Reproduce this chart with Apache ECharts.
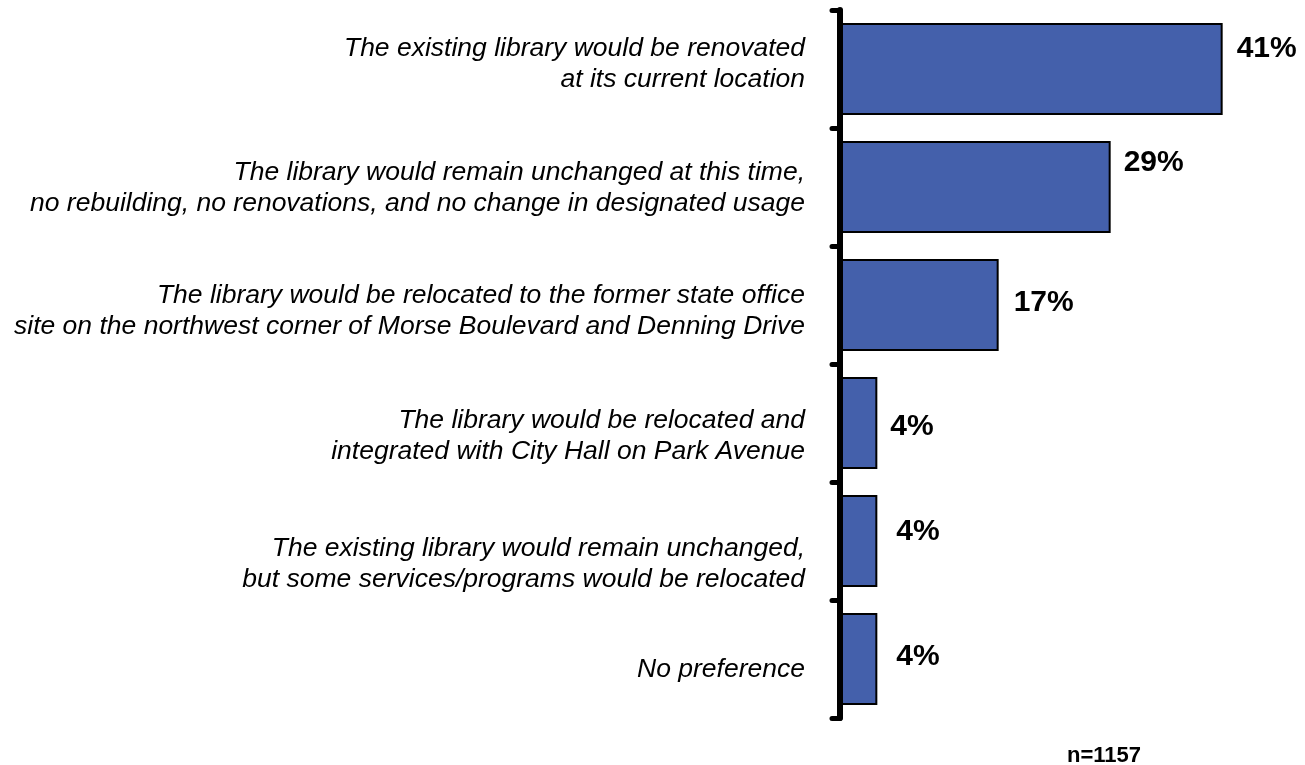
<!DOCTYPE html>
<html>
<head>
<meta charset="utf-8">
<style>
  html, body { margin: 0; padding: 0; background: #ffffff; }
  #chart { width: 1305px; height: 765px; }
</style>
<script src="https://cdn.jsdelivr.net/npm/echarts@6/dist/echarts.min.js"></script>
</head>
<body>
<div id="chart"></div>
<script>
// Library preference options (top to bottom) and share of respondents (%)
const options = [
  'The existing library would be renovated\nat its current location',
  'The library would remain unchanged at this time,\nno rebuilding, no renovations, and no change in designated usage',
  'The library would be relocated to the former state office\nsite on the northwest corner of Morse Boulevard and Denning Drive',
  'The library would be relocated and\nintegrated with City Hall on Park Avenue',
  'The existing library would remain unchanged,\nbut some services/programs would be relocated',
  'No preference'
];
const shares = [41, 29, 17, 4, 4, 4];
const sampleNote = 'n=1157';

// per-label nudges [x, y] in pixels for the value labels
const labelShift = [[14, -20], [13, -24], [15, -2], [13, 4], [19, -9], [19, -2]];
// vertical nudge (px, positive = down) for each category label
const categoryShift = [-5, 1, 6, 13, 23, 11];

// an empty spacer line of height 2*d above (down shift) or below (up shift)
// the label text moves the centred block by d pixels
const gapStyles = {};
categoryShift.forEach((d, i) => {
  gapStyles['g' + i] = { lineHeight: Math.max(1, 2 * Math.abs(d)), fontSize: 1 };
});

const chart = echarts.init(document.getElementById('chart'));
chart.setOption({
  animation: false,
  backgroundColor: '#ffffff',
  grid: { left: 840, right: 45, top: 10, bottom: 47, containLabel: false },
  xAxis: {
    type: 'value', min: 0, max: 45,
    show: false
  },
  yAxis: {
    type: 'category',
    inverse: true,
    data: options,
    z: 5,
    axisLine: { show: true, lineStyle: { color: '#000', width: 6, cap: 'round' } },
    axisTick: { show: true, length: 8, lineStyle: { color: '#000', width: 5, cap: 'round' } },
    axisLabel: {
      margin: 35,
      fontFamily: '"Liberation Sans", Arial, sans-serif',
      fontStyle: 'italic',
      fontSize: 26.5,
      lineHeight: 31,
      color: '#000',
      align: 'right',
      rich: gapStyles,
      formatter: (value, index) => {
        const d = categoryShift[index] || 0;
        if (d === 0) return value;
        const gap = '{g' + index + '| }';
        return d > 0 ? gap + '\n' + value : value + '\n' + gap;
      }
    },
    splitLine: { show: false }
  },
  series: [{
    type: 'bar',
    data: shares.map((v, i) => ({
      value: v,
      label: { offset: labelShift[i] }
    })),
    barCategoryGap: '22%',
    itemStyle: { color: '#4460ab', borderColor: '#000', borderWidth: 2 },
    label: {
      show: true,
      position: 'right',
      distance: 0,
      formatter: '{c}%',
      fontFamily: '"Liberation Sans", Arial, sans-serif',
      fontWeight: 'bold',
      fontSize: 30,
      color: '#000'
    }
  }],
  graphic: [{
    type: 'text',
    left: 1067, top: 745,
    style: {
      text: sampleNote,
      font: 'bold 22px "Liberation Sans", Arial, sans-serif',
      fill: '#000'
    }
  }]
});
</script>
</body>
</html>
